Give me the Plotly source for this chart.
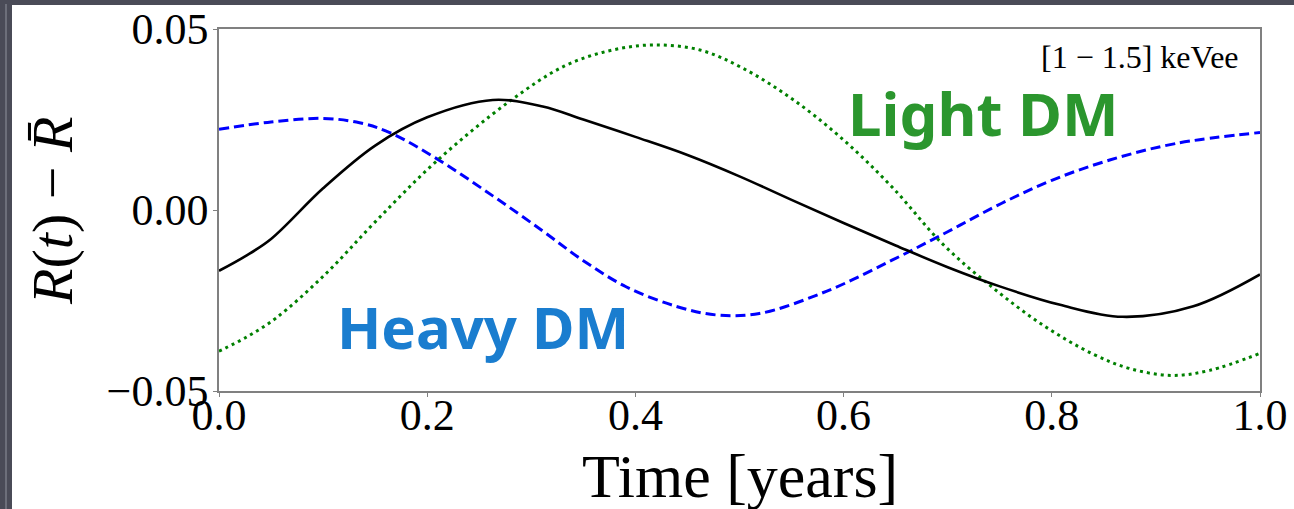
import plotly.graph_objects as go

# Modulation of the event rate over one year, [1 - 1.5] keVee bin
t_total = [0.0, 0.025, 0.05, 0.10, 0.15, 0.20, 0.263, 0.311, 0.35, 0.40, 0.45,
           0.50, 0.55, 0.60, 0.65, 0.70, 0.75, 0.808, 0.868, 0.936, 1.0]
r_total = [-0.0168, -0.0128, -0.0080, 0.0060, 0.0178, 0.0256, 0.0304, 0.0286, 0.0250, 0.0202, 0.0152,
           0.0093, 0.0028, -0.0036, -0.0098, -0.0158, -0.0211, -0.0262, -0.0295, -0.0266, -0.0178]

t_heavy = [0.0, 0.05, 0.100, 0.135, 0.164, 0.209, 0.263, 0.311, 0.35, 0.391, 0.439,
           0.478, 0.519, 0.584, 0.647, 0.7, 0.7515, 0.80, 0.8556, 0.9197, 1.0]
r_heavy = [0.0223, 0.0243, 0.0253, 0.0241, 0.0214, 0.0142, 0.0039, -0.0058, -0.0140, -0.0212, -0.0266,
           -0.0290, -0.0286, -0.0224, -0.0138, -0.0060, 0.0018, 0.0082, 0.0138, 0.0184, 0.0214]

t_light = [0.0, 0.027, 0.055, 0.103, 0.151, 0.209, 0.279, 0.332, 0.375, 0.417, 0.462, 0.503,
           0.551, 0.599, 0.647, 0.6955, 0.7435, 0.7915, 0.8396, 0.875, 0.915, 0.9517, 1.0]
r_light = [-0.0390, -0.0350, -0.0298, -0.0175, -0.0030, 0.0135, 0.0300, 0.0398, 0.0440, 0.0456, 0.0442, 0.0392,
           0.0306, 0.0196, 0.0062, -0.0095, -0.0215, -0.0318, -0.0398, -0.0438, -0.0457, -0.0443, -0.0396]

x_ticks = [0.0, 0.2, 0.4, 0.6, 0.8, 1.0]
y_ticks = [-0.05, 0.0, 0.05]

W, H = 1294, 509
ML, MR, MT, MB = 219, 34, 29, 118
PW, PH = W - ML - MR, H - MT - MB


def px_x(px):
    return (px - ML) / PW


def px_y(py):
    return (H - MB - py) / PH


serif = "Liberation Serif, Times New Roman, serif"
hand = "Noto Sans, sans-serif"

fig = go.Figure()
fig.add_trace(go.Scatter(x=t_heavy, y=r_heavy, mode="lines", line_shape="spline",
                         line=dict(color="#0000ff", width=3, dash="10px,5px")))
fig.add_trace(go.Scatter(x=t_light, y=r_light, mode="lines", line_shape="spline",
                         line=dict(color="#008000", width=3, dash="3px,4px")))
fig.add_trace(go.Scatter(x=t_total, y=r_total, mode="lines", line_shape="spline",
                         line=dict(color="black", width=2.6)))

# slide frame: dark border with a white panel
fig.add_shape(type="rect", xref="paper", yref="paper", layer="below",
              x0=px_x(12), x1=px_x(W + 5), y0=px_y(H + 5), y1=px_y(5),
              fillcolor="white", line=dict(width=0))
fig.add_shape(type="line", xref="paper", yref="paper", layer="below",
              x0=px_x(6), x1=px_x(6), y0=px_y(H + 5), y1=px_y(4),
              line=dict(color="#7a7b86", width=1.5))

axis_common = dict(showline=True, linecolor="#808080", linewidth=1.5, mirror=True,
                   ticks="outside", ticklen=4, tickcolor="#808080", tickwidth=1,
                   showgrid=False, zeroline=False, automargin=False,
                   tickfont=dict(family=serif, size=44, color="black"))

fig.update_layout(
    width=W, height=H,
    margin=dict(l=ML, r=MR, t=MT, b=MB),
    paper_bgcolor="#4a4b57", plot_bgcolor="white",
    showlegend=False,
    xaxis=dict(range=[0, 1], tickvals=x_ticks, tickformat=".1f",
               ticklabelstandoff=-20, **axis_common),
    yaxis=dict(range=[-0.05, 0.05], tickvals=y_ticks, tickformat=".2f",
               ticklabelstandoff=-4, **axis_common),
    annotations=[
        dict(text="Time [years]", xref="paper", yref="paper", x=0.5, y=px_y(476),
             xanchor="center", yanchor="middle", showarrow=False,
             font=dict(family=serif, size=62, color="black")),
        dict(text="<i>R</i>(<i>t</i>) \u2212 <i>R\u0304</i>", xref="paper", yref="paper",
             x=px_x(53), y=px_y(211), textangle=-90, xanchor="center", yanchor="middle",
             showarrow=False, font=dict(family=serif, size=58, color="black")),
        dict(text="[1 \u2212 1.5] keVee", xref="paper", yref="paper",
             x=px_x(1241), y=px_y(57), xanchor="right", yanchor="middle", showarrow=False,
             font=dict(family=serif, size=32, color="black")),
        dict(text="<b>Heavy DM</b>", xref="paper", yref="paper",
             x=px_x(483), y=px_y(326), xanchor="center", yanchor="middle", showarrow=False,
             font=dict(family=hand, size=58, color="#1a7dcf")),
        dict(text="<b>Light DM</b>", xref="paper", yref="paper",
             x=px_x(983), y=px_y(113), xanchor="center", yanchor="middle", showarrow=False,
             font=dict(family=hand, size=60, color="#2b962e")),
    ],
)

fig.write_html("out.html")
